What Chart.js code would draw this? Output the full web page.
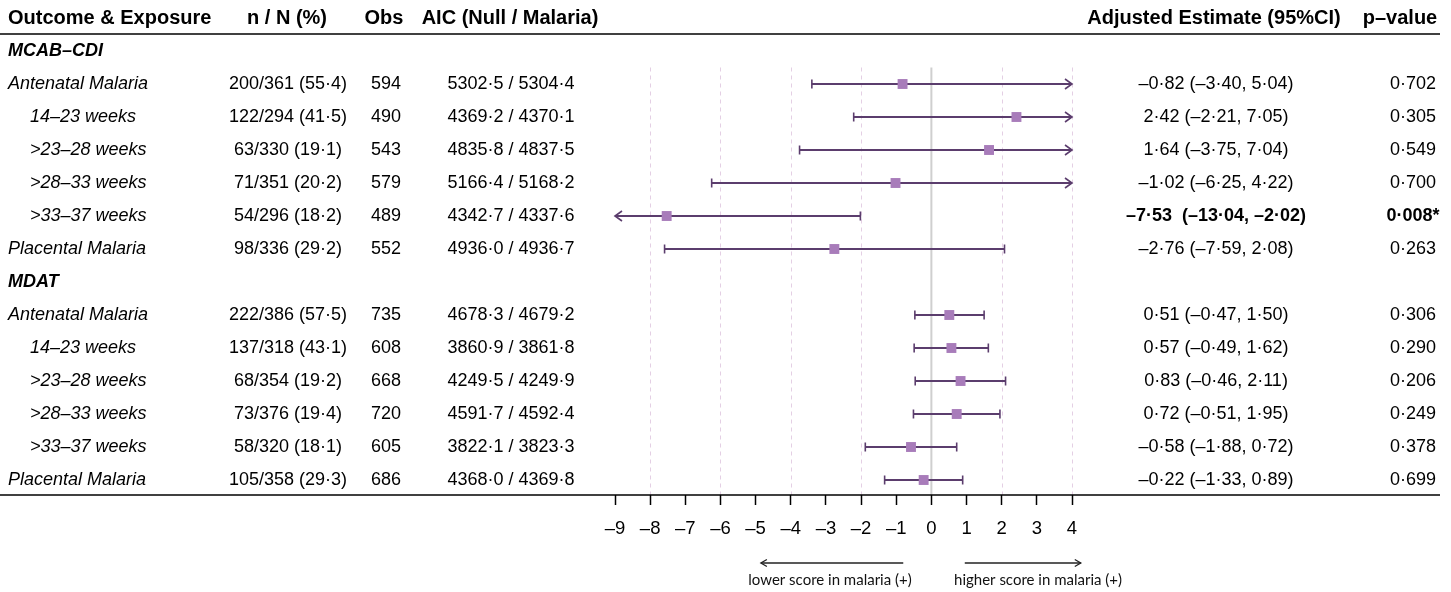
<!DOCTYPE html>
<html>
<head>
<meta charset="utf-8">
<script src="https://cdn.jsdelivr.net/npm/chart.js@4.4.1/dist/chart.umd.min.js"></script>
<style>
  html, body { margin: 0; padding: 0; background: #ffffff; }
  #wrap { width: 1451px; height: 592px; }
</style>
</head>
<body>
<div id="wrap"><canvas id="c" width="1451" height="592"></canvas></div>
<script>
// ---------------- DATA ----------------
const headers = ['Outcome & Exposure', 'n / N (%)', 'Obs', 'AIC (Null / Malaria)', 'Adjusted Estimate (95%CI)', 'p–value'];
const groups = ['MCAB–CDI', 'MDAT'];
const exposures = ['Antenatal Malaria', '14–23 weeks', '>23–28 weeks', '>28–33 weeks', '>33–37 weeks', 'Placental Malaria'];
const isSubRow = [false, true, true, true, true, false];

// MCAB-CDI
const cdiN = ['200/361', '122/294', '63/330', '71/351', '54/296', '98/336'];
const cdiPct = [55.4, 41.5, 19.1, 20.2, 18.2, 29.2];
const cdiObs = [594, 490, 543, 579, 489, 552];
const cdiAicNull = [5302.5, 4369.2, 4835.8, 5166.4, 4342.7, 4936.0];
const cdiAicMal = [5304.4, 4370.1, 4837.5, 5168.2, 4337.6, 4936.7];
const cdiEst = [-0.82, 2.42, 1.64, -1.02, -7.53, -2.76];
const cdiLo = [-3.40, -2.21, -3.75, -6.25, -13.04, -7.59];
const cdiHi = [5.04, 7.05, 7.04, 4.22, -2.02, 2.08];
const cdiP = ['0.702', '0.305', '0.549', '0.700', '0.008*', '0.263'];
const cdiSig = [false, false, false, false, true, false];

// MDAT
const mdatN = ['222/386', '137/318', '68/354', '73/376', '58/320', '105/358'];
const mdatPct = [57.5, 43.1, 19.2, 19.4, 18.1, 29.3];
const mdatObs = [735, 608, 668, 720, 605, 686];
const mdatAicNull = [4678.3, 3860.9, 4249.5, 4591.7, 3822.1, 4368.0];
const mdatAicMal = [4679.2, 3861.8, 4249.9, 4592.4, 3823.3, 4369.8];
const mdatEst = [0.51, 0.57, 0.83, 0.72, -0.58, -0.22];
const mdatLo = [-0.47, -0.49, -0.46, -0.51, -1.88, -1.33];
const mdatHi = [1.50, 1.62, 2.11, 1.95, 0.72, 0.89];
const mdatP = ['0.306', '0.290', '0.206', '0.249', '0.378', '0.699'];
const mdatSig = [false, false, false, false, false, false];

const xTicks = [-9, -8, -7, -6, -5, -4, -3, -2, -1, 0, 1, 2, 3, 4];
const xMin = -9, xMax = 4;
const lowerLabel = 'lower score in malaria (+)';
const higherLabel = 'higher score in malaria (+)';
const lowerArrow = [-0.8, -4.85];
const higherArrow = [0.95, 4.25];

// ---------------- BUILD ROWS ----------------
const fmt = (v, d) => v.toFixed(d).replace('.', '·').replace('-', '–');
const fmtS = s => s.replace('.', '·');
const rows = [];
function addGroup(name, N, pct, obs, an, am, est, lo, hi, p, sig) {
  rows.push({ section: name });
  for (let i = 0; i < exposures.length; i++) {
    rows.push({
      label: exposures[i], sub: isSubRow[i],
      nN: N[i] + ' (' + fmt(pct[i], 1) + ')',
      obs: String(obs[i]),
      aic: fmt(an[i], 1) + ' / ' + fmt(am[i], 1),
      est: est[i], lo: lo[i], hi: hi[i],
      estText: fmt(est[i], 2) + (sig[i] ? '  (' : ' (') + fmt(lo[i], 2) + ', ' + fmt(hi[i], 2) + ')',
      p: fmtS(p[i]), bold: sig[i]
    });
  }
}
addGroup(groups[0], cdiN, cdiPct, cdiObs, cdiAicNull, cdiAicMal, cdiEst, cdiLo, cdiHi, cdiP, cdiSig);
addGroup(groups[1], mdatN, mdatPct, mdatObs, mdatAicNull, mdatAicMal, mdatEst, mdatLo, mdatHi, mdatP, mdatSig);

const points = [];
rows.forEach((r, i) => { if (r.label) points.push({ x: r.est, y: i }); });

// ---------------- STYLE ----------------
const FONT = '"Liberation Sans", Arial, Helvetica, sans-serif';
const BAR_COLOR = '#5b3d6d';
const PT_COLOR = '#a87cba';
const GRID_COLOR = '#e4cfe4';

const forestPlugin = {
  id: 'forest',
  beforeDatasetsDraw(chart) {
    const { ctx, chartArea, scales: { x, y } } = chart;
    const gTop = y.getPixelForValue(0.5);
    ctx.save();
    ctx.strokeStyle = GRID_COLOR;
    ctx.lineWidth = 1;
    ctx.setLineDash([4, 4]);
    xTicks.forEach(v => {
      if (v !== 0 && v % 2 === 0) {
        const px = Math.round(x.getPixelForValue(v)) + 0.5;
        ctx.beginPath(); ctx.moveTo(px, gTop); ctx.lineTo(px, chartArea.bottom); ctx.stroke();
      }
    });
    ctx.setLineDash([]);
    ctx.strokeStyle = '#cfcfcf';
    ctx.lineWidth = 2;
    const zx = x.getPixelForValue(0);
    ctx.beginPath(); ctx.moveTo(zx, gTop); ctx.lineTo(zx, chartArea.bottom); ctx.stroke();

    ctx.strokeStyle = BAR_COLOR;
    ctx.lineWidth = 2;
    rows.forEach((r, i) => {
      if (!r.label) return;
      const py = y.getPixelForValue(i);
      const loC = Math.max(r.lo, xMin), hiC = Math.min(r.hi, xMax);
      const x1 = x.getPixelForValue(loC), x2 = x.getPixelForValue(hiC);
      ctx.beginPath(); ctx.moveTo(x1, py); ctx.lineTo(x2, py); ctx.stroke();
      ctx.lineWidth = 1.6;
      ctx.beginPath();
      if (r.lo < xMin) { ctx.moveTo(x1 + 7, py - 5); ctx.lineTo(x1, py); ctx.lineTo(x1 + 7, py + 5); }
      else { ctx.moveTo(x1, py - 4.5); ctx.lineTo(x1, py + 4.5); }
      ctx.stroke();
      ctx.beginPath();
      if (r.hi > xMax) { ctx.moveTo(x2 - 7, py - 5); ctx.lineTo(x2, py); ctx.lineTo(x2 - 7, py + 5); }
      else { ctx.moveTo(x2, py - 4.5); ctx.lineTo(x2, py + 4.5); }
      ctx.stroke();
      ctx.lineWidth = 2;
    });
    ctx.restore();
  },
  afterDraw(chart) {
    const { ctx, chartArea, scales: { x, y } } = chart;
    ctx.save();
    ctx.fillStyle = '#000';
    ctx.textBaseline = 'middle';
    const hy = 18;
    ctx.font = 'bold 20px ' + FONT;
    ctx.textAlign = 'left'; ctx.fillText(headers[0], 8, hy);
    ctx.textAlign = 'center';
    ctx.fillText(headers[1], 287, hy);
    ctx.fillText(headers[2], 384, hy);
    ctx.fillText(headers[3], 510, hy);
    ctx.fillText(headers[4], 1214, hy);
    ctx.fillText(headers[5], 1400, hy);
    ctx.strokeStyle = '#000';
    ctx.lineWidth = 1.5;
    ctx.beginPath(); ctx.moveTo(0, 34); ctx.lineTo(1440, 34); ctx.stroke();
    ctx.beginPath(); ctx.moveTo(0, chartArea.bottom); ctx.lineTo(1440, chartArea.bottom); ctx.stroke();

    rows.forEach((r, i) => {
      const py = y.getPixelForValue(i);
      if (r.section) {
        ctx.font = 'italic bold 18px ' + FONT;
        ctx.textAlign = 'left';
        ctx.fillText(r.section, 8, py);
        return;
      }
      ctx.font = 'italic 18px ' + FONT;
      ctx.textAlign = 'left';
      ctx.fillText(r.label, r.sub ? 30 : 8, py);
      ctx.font = '18px ' + FONT;
      ctx.textAlign = 'center';
      ctx.fillText(r.nN, 288, py);
      ctx.fillText(r.obs, 386, py);
      ctx.fillText(r.aic, 511, py);
      ctx.font = (r.bold ? 'bold ' : '') + '18px ' + FONT;
      ctx.fillText(r.estText, 1216, py);
      ctx.fillText(r.p, 1413, py);
    });

    const ay = 563;
    ctx.strokeStyle = '#222';
    ctx.lineWidth = 1.3;
    const drawArrow = (a, b) => {
      const p1 = x.getPixelForValue(a), p2 = x.getPixelForValue(b);
      const dir = Math.sign(p2 - p1);
      ctx.beginPath(); ctx.moveTo(p1, ay); ctx.lineTo(p2, ay); ctx.stroke();
      ctx.beginPath(); ctx.moveTo(p2 - dir * 6, ay - 3.5); ctx.lineTo(p2, ay); ctx.lineTo(p2 - dir * 6, ay + 3.5); ctx.stroke();
    };
    drawArrow(lowerArrow[0], lowerArrow[1]);
    drawArrow(higherArrow[0], higherArrow[1]);
    ctx.font = '15px Lato, "Open Sans", sans-serif';
    ctx.fillStyle = '#111';
    ctx.textAlign = 'center';
    ctx.fillText(lowerLabel, 830, 580);
    ctx.fillText(higherLabel, 1038, 580);
    ctx.restore();
  }
};

new Chart(document.getElementById('c'), {
  type: 'scatter',
  data: {
    datasets: [{
      data: points,
      pointStyle: 'rect',
      pointRadius: 7,
      pointHoverRadius: 7,
      backgroundColor: PT_COLOR,
      borderColor: PT_COLOR,
      borderWidth: 0
    }]
  },
  options: {
    responsive: false,
    animation: false,
    devicePixelRatio: 1,
    layout: { padding: { left: 615, right: 379, top: 34, bottom: 0 } },
    plugins: { legend: { display: false }, tooltip: { enabled: false } },
    scales: {
      x: {
        type: 'linear', min: xMin, max: xMax,
        afterBuildTicks: s => { s.ticks = xTicks.map(v => ({ value: v })); },
        afterFit: s => { s.height = 97; },
        ticks: {
          autoSkip: false, maxRotation: 0, padding: 13, color: '#000',
          font: { family: FONT, size: 18.5 },
          callback: v => fmt(v, 0)
        },
        grid: { drawOnChartArea: false, drawTicks: true, tickLength: 10, tickColor: '#000', tickWidth: 1.5 },
        border: { display: false }
      },
      y: {
        type: 'linear', display: false, reverse: true,
        min: -17 / 33, max: 444 / 33
      }
    }
  },
  plugins: [forestPlugin]
});
</script>
</body>
</html>
